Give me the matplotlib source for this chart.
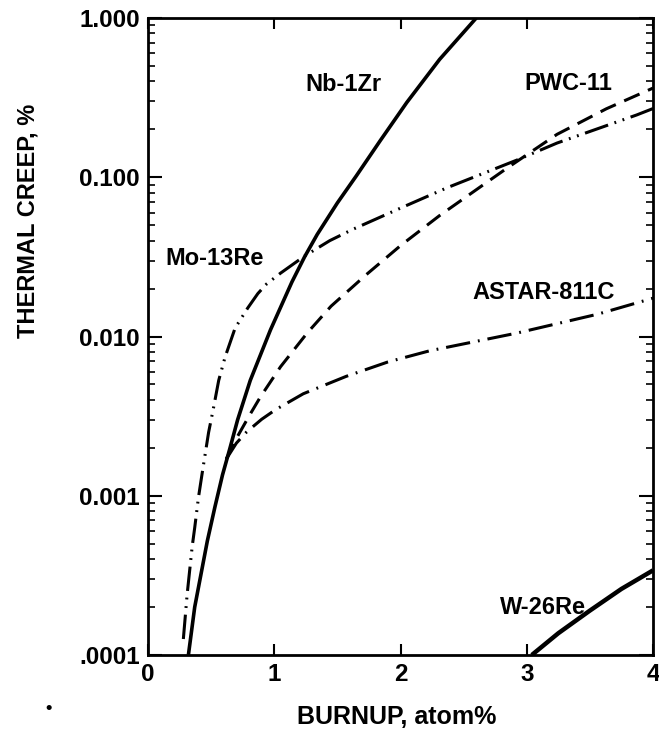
import numpy as np
import matplotlib
matplotlib.use("Agg")
import matplotlib.pyplot as plt
from matplotlib.ticker import FixedLocator, NullFormatter, LogLocator

plt.rcParams["font.family"] = ["Liberation Sans", "DejaVu Sans"]
plt.rcParams["font.weight"] = "bold"

# curves (burnup atom%, thermal creep %)
nb_x = [0.32, 0.37, 0.47, 0.53, 0.59, 0.65, 0.71, 0.81, 0.97, 1.14, 1.24, 1.34, 1.50, 1.65, 1.84, 2.05, 2.31, 2.60]
nb_y = [1e-4, 2e-4, 5.2e-4, 8.5e-4, 1.35e-3, 2.0e-3, 3.0e-3, 5.3e-3, 0.011, 0.022, 0.0316, 0.0437, 0.069, 0.102,
        0.17, 0.295, 0.55, 1.0]

mo_x = [0.28, 0.31, 0.35, 0.37, 0.40, 0.43, 0.48, 0.52, 0.56, 0.61, 0.69, 0.79, 0.87, 0.94, 1.05, 1.24,
        1.44, 1.62, 2.0, 2.37, 2.92, 3.24, 3.87, 4.0]
mo_y = [1.26e-4, 2.4e-4, 4.8e-4, 6.3e-4, 9.8e-4, 1.4e-3, 2.5e-3, 3.6e-3, 5.3e-3, 7.4e-3, 0.0113, 0.0151, 0.0186,
        0.0214, 0.025, 0.032, 0.040, 0.047, 0.064, 0.086, 0.128, 0.164, 0.246, 0.27]

pwc_x = [0.62, 0.70, 0.80, 0.89, 1.05, 1.26, 1.45, 1.73, 2.0, 2.31, 2.65, 2.85, 3.24, 3.63, 4.0]
pwc_y = [1.7e-3, 2.29e-3, 3.16e-3, 4.17e-3, 6.46e-3, 0.0105, 0.0155, 0.0245, 0.0372, 0.0575, 0.089, 0.115,
         0.186, 0.269, 0.363]

astar_x = [0.62, 0.70, 0.78, 0.90, 1.01, 1.23, 1.57, 1.90, 2.23, 2.92, 3.56, 4.0]
astar_y = [1.7e-3, 2.14e-3, 2.51e-3, 3.02e-3, 3.47e-3, 4.37e-3, 5.62e-3, 6.92e-3, 8.13e-3, 0.0105, 0.0138, 0.0174]

w_x = [3.04, 3.25, 3.5, 3.75, 4.0]
w_y = [1e-4, 1.37e-4, 1.9e-4, 2.6e-4, 3.4e-4]

labels = ["Nb-1Zr", "PWC-11", "Mo-13Re", "ASTAR-811C", "W-26Re"]
label_x = [1.55, 3.33, 0.53, 3.13, 3.13]
label_y = [0.38, 0.39, 0.031, 0.019, 2.0e-4]

yticks = [1e-4, 1e-3, 1e-2, 1e-1, 1.0]
yticklabels = [".0001", "0.001", "0.010", "0.100", "1.000"]
xticks = [0, 1, 2, 3, 4]

W, H = 659, 742
fig = plt.figure(figsize=(W / 100, H / 100), dpi=100)
ax = fig.add_axes([148 / W, 1 - 655 / H, (653 - 148) / W, (655 - 18) / H])

lw = 2.2
ax.plot(nb_x, nb_y, color="black", lw=2.6, solid_capstyle="butt", solid_joinstyle="round")
ax.plot(w_x, w_y, color="black", lw=3.2, solid_capstyle="butt", solid_joinstyle="round")
ax.plot(pwc_x, pwc_y, color="black", lw=lw, linestyle=(0, (5.5, 3.0)))
ax.plot(astar_x, astar_y, color="black", lw=lw, linestyle=(0, (8, 2.6, 0.6, 2.6)))
ax.plot(mo_x, mo_y, color="black", lw=lw, linestyle=(0, (8, 2.2, 0.6, 2.2, 0.6, 2.2)))

for t, x, y in zip(labels, label_x, label_y):
    ax.text(x, y, t, ha="center", va="center", fontsize=17, fontweight="bold",
            bbox=dict(facecolor="white", edgecolor="none", pad=1) if t == "Mo-13Re" else None)

ax.set_yscale("log")
ax.set_xlim(0, 4)
ax.set_ylim(1e-4, 1.0)
ax.yaxis.set_major_locator(FixedLocator(yticks))
ax.set_yticklabels(yticklabels)
ax.yaxis.set_minor_locator(LogLocator(base=10, subs=np.arange(2, 10)))
ax.yaxis.set_minor_formatter(NullFormatter())
ax.set_xticks(xticks)
ax.set_xticklabels([str(v) for v in xticks])

ax.tick_params(axis="both", which="major", direction="in", top=True, right=True,
               labelsize=17.5, length=10, width=1.5, pad=6)
ax.tick_params(axis="y", which="minor", direction="in", left=True, right=True,
               length=5, width=1.2)
ax.tick_params(axis="x", which="major", length=8)
for lab in ax.get_xticklabels() + ax.get_yticklabels():
    lab.set_fontweight("bold")
for sp in ax.spines.values():
    sp.set_linewidth(2)

fig.text(28 / W, 1 - 221 / H, "THERMAL CREEP, %", rotation=90, ha="center", va="center",
         fontsize=17, fontweight="bold")
fig.text(397 / W, 1 - 717 / H, "BURNUP, atom%", ha="center", va="center",
         fontsize=18, fontweight="bold")
fig.text(49 / W, 1 - 708 / H, "•", ha="center", va="center", fontsize=13)

fig.savefig("out.png", dpi=100)
